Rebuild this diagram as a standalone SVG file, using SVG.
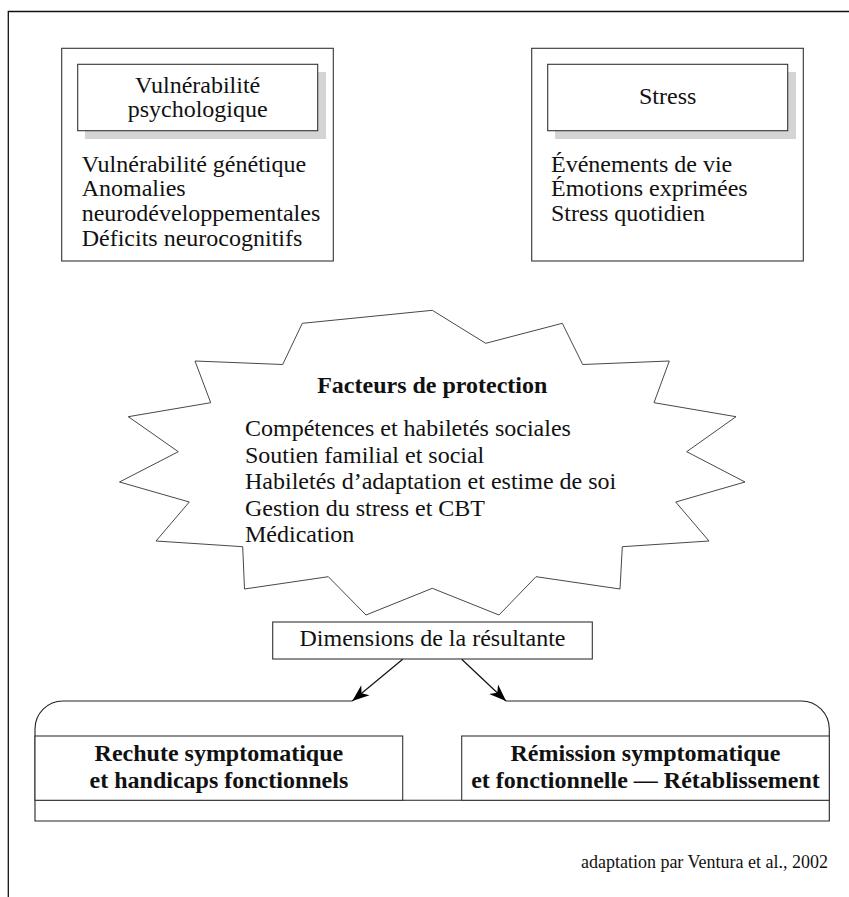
<svg xmlns="http://www.w3.org/2000/svg" width="849" height="897" viewBox="0 0 849 897">
<style>
text { font-family: "Liberation Serif", "Times New Roman", serif; font-size: 24px; fill: #111; }
.c { text-anchor: middle; }
.b { font-weight: bold; }
.box { fill: #fff; stroke: #333; stroke-width: 1.1; }
.shadow { fill: #d4d4d4; stroke: none; }
.line { fill: none; stroke: #222; stroke-width: 1.1; }
.conn { fill: none; stroke: #111; stroke-width: 1.2; }
.foot { font-size: 18px; text-anchor: end; }
</style>
<defs>
<marker id="ah" viewBox="-18 -7 20 14" refX="0" refY="0" markerWidth="20" markerHeight="14" orient="auto" markerUnits="userSpaceOnUse">
<path d="M0,0 L-17,-6.5 L-12,0 L-17,6.5 Z" fill="#000"/>
</marker>
</defs>
<rect width="849" height="897" fill="#fff"/>
<path id="frame" d="M849,11.5 H8.3 V897" fill="none" stroke="#111" stroke-width="1.3"/>

<g id="vulnerabilite">
<rect class="box" x="61.7" y="48.3" width="271.6" height="212.7"/>
<rect class="shadow" x="85" y="72" width="241" height="67"/>
<rect class="box" x="77.7" y="64.3" width="240" height="66.4"/>
<text class="c" x="197.7" y="93">Vulnérabilité</text>
<text class="c" x="197.7" y="117">psychologique</text>
<text x="81.7" y="171.7">Vulnérabilité génétique</text>
<text x="81.7" y="196.3">Anomalies</text>
<text x="81.7" y="221">neurodéveloppementales</text>
<text x="81.7" y="245.7">Déficits neurocognitifs</text>
</g>

<g id="stress">
<rect class="box" x="531.7" y="48.3" width="271.6" height="212.7"/>
<rect class="shadow" x="555" y="72" width="241" height="67"/>
<rect class="box" x="547.7" y="64.3" width="240" height="66.4"/>
<text class="c" x="667.7" y="104">Stress</text>
<text x="551" y="171.7">Événements de vie</text>
<text x="551" y="196.3">Émotions exprimées</text>
<text x="551" y="221">Stress quotidien</text>
</g>

<g id="protection">
<polygon fill="#fff" stroke="#333" stroke-width="0.9" points="432.3,310.3 485.7,343.3 562.3,323.3 582.7,364.5 669.3,361 654,402.7 736,416.7 686.7,451.7 745,482 675.7,502 709,541 622.3,546.7 620,589 536,576.7 499,615 432.3,588.3 366,615 328.3,576.7 244.5,589 242.7,546.7 156,541 189.3,502 119.5,482 178.3,451.7 128.3,416.7 210.7,402.7 195,361 282.7,364.5 302.3,323.3"/>
<text class="c b" x="432.3" y="393.3">Facteurs de protection</text>
<text x="245" y="436">Compétences et habiletés sociales</text>
<text x="245" y="462.6">Soutien familial et social</text>
<text x="245" y="489.2">Habiletés d’adaptation et estime de soi</text>
<text x="245" y="515.8">Gestion du stress et CBT</text>
<text x="245" y="542.4">Médication</text>
</g>

<g id="dimensions">
<rect class="box" x="272.7" y="622" width="319.6" height="37"/>
<text class="c" x="432.5" y="645.5">Dimensions de la résultante</text>
</g>

<g id="resultats">
<path class="line" d="M352.3,701 H63 A28,28 0 0 0 35,729 V821 H829.3 V729 A28,28 0 0 0 801.3,701 H506"/>
<line class="line" x1="35" y1="800.3" x2="829.3" y2="800.3"/>
</g>

<g id="rechute">
<rect class="box" x="35" y="736" width="367.7" height="64.3"/>
<text class="c b" x="218.9" y="761">Rechute symptomatique</text>
<text class="c b" x="218.9" y="787.7">et handicaps fonctionnels</text>
</g>

<g id="remission">
<rect class="box" x="461.7" y="736" width="367.6" height="64.3"/>
<text class="c b" x="645.5" y="761">Rémission symptomatique</text>
<text class="c b" x="645.5" y="787.7">et fonctionnelle — Rétablissement</text>
</g>

<g id="connectors">
<line class="conn" x1="402.7" y1="659.3" x2="352.3" y2="701" marker-end="url(#ah)"/>
<line class="conn" x1="461.7" y1="659.3" x2="506" y2="701" marker-end="url(#ah)"/>
</g>

<text class="foot" x="828" y="868">adaptation par Ventura et al., 2002</text>
</svg>
